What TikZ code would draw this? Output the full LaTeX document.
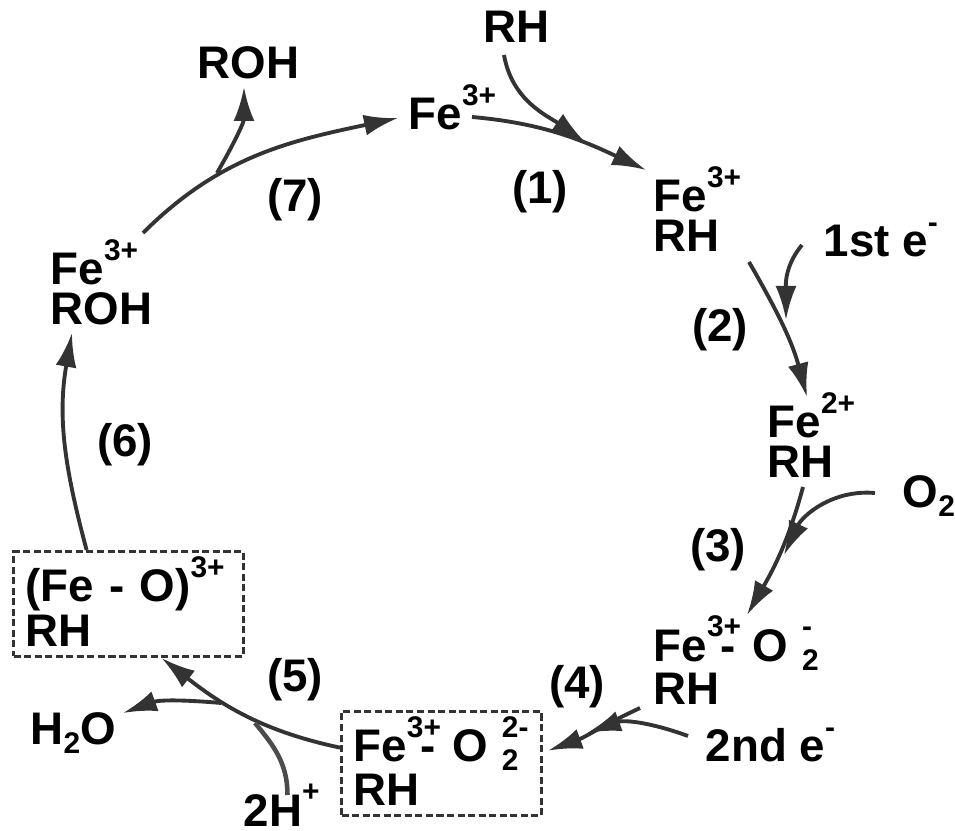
\documentclass[tikz,border=0pt]{standalone}
\usepackage{fontspec}
\setmainfont{Liberation Sans}
\usetikzlibrary{arrows.meta}

\newcommand{\sups}[1]{\raisebox{7pt}{\fontsize{8.5}{8.5}\selectfont #1}}
\newcommand{\subs}[1]{\raisebox{-2.5pt}{\fontsize{8.5}{8.5}\selectfont #1}}
\newcommand{\botline}{\rule[-0.05cm]{0pt}{0pt}}

\begin{document}
\begin{tikzpicture}[
    every node/.style={
        font=\fontsize{13}{11.4}\selectfont\bfseries,
        inner sep=0pt,
        anchor=base west,
        align=left
    },
    stepnum/.style={anchor=center},
    dotbox/.style={
        draw=black!80,
        dash pattern=on 2pt off 1pt,
        line width=0.9pt,
        inner xsep=0.12cm,
        inner ysep=0.05cm
    },
    rxn/.style={
        draw=black!80,
        line width=1.1pt,
        -{Latex[length=3.4mm,width=2.1mm]}
    },
    side/.style={
        draw=black!70,
        line width=1.3pt
    }
]
\useasboundingbox (0,0) rectangle (9.55,8.31);

% Species on the cycle
\node (FeA) at (4.08,7.01) {Fe\sups{3+}};
\node (FeB) at (6.53,5.79) {Fe\sups{3+}\\RH};
\node (FeC) at (7.67,3.53) {Fe\sups{2+}\\RH};
\node (FeD) at (6.53,1.26) {Fe\rlap{\sups{3+}}\kern0.3em-\kern0.37em O\kern0.3em\rlap{\sups{-}}\subs{2}\\RH};
\node[dotbox,text width=1.76cm] (FeE) at (3.40,0.69) {Fe\rlap{\sups{3+}}\kern0.3em-\kern0.37em O\kern0.3em\rlap{\sups{2-}}\subs{2}\\RH\botline};
\node[dotbox,text width=2.06cm] (FeF) at (0.12,2.29) {(Fe - O)\sups{3+}\\RH\botline};
\node (FeG) at (0.50,5.06) {Fe\sups{3+}\\ROH};

% Species entering and leaving
\node (SubRH) at (4.83,7.88) {RH};
\node (EleA) at (8.23,5.74) {1st e\sups{-}};
\node (OxyO) at (9.02,3.23) {O\subs{2}};
\node (EleB) at (7.05,0.69) {2nd e\sups{-}};
\node (ProtH) at (2.43,0.05) {2H\sups{+}};
\node (WatO) at (0.30,0.86) {H\subs{2}O};
\node (ProdROH) at (1.97,7.52) {ROH};

% Step numbers
\node[stepnum] (StepA) at (5.40,6.39) {(1)};
\node[stepnum] (StepB) at (7.20,5.01) {(2)};
\node[stepnum] (StepC) at (7.18,2.81) {(3)};
\node[stepnum] (StepD) at (5.77,1.44) {(4)};
\node[stepnum] (StepE) at (2.95,1.51) {(5)};
\node[stepnum] (StepF) at (1.25,3.86) {(6)};
\node[stepnum] (StepG) at (2.95,6.31) {(7)};

% Points where the side arrows meet the cycle
\coordinate (JoinA) at (5.85,6.89);
\coordinate (JoinB) at (7.86,5.11);
\coordinate (JoinC) at (7.84,2.76);
\coordinate (JoinD) at (5.87,0.98);
\coordinate (JoinE) at (2.55,1.08);
\coordinate (JoinF) at (2.21,1.28);
\coordinate (JoinG) at (2.17,6.58);

% Cycle
\draw[rxn] ([shift={(0.64,0.13)}]FeA.base west) to[out=-5,in=155] ([shift={(-0.07,0.82)}]FeB.base west);
\draw[rxn] ([shift={(0.96,-0.10)}]FeB.base west) to[out=-60,in=105] ([shift={(0.40,0.81)}]FeC.base west);
\draw[rxn] ([shift={(0.36,-0.09)}]FeC.base west) to[out=-105,in=60] ([shift={(0.94,0.90)}]FeD.base west);
\draw[rxn] ([shift={(-0.13,-0.03)}]FeD.base west) to[out=205,in=20] ([shift={(0.05,0.13)}]FeE.east);
\draw[rxn] ([yshift=0.16cm]FeE.west) to[out=168,in=-38] ([xshift=0.33cm]FeF.south);
\draw[rxn] ([xshift=-0.42cm]FeF.north) to[out=105,in=-100] ([shift={(0.22,-0.08)}]FeG.base west);
\draw[rxn] ([shift={(0.93,0.92)}]FeG.base west) to[out=45,in=192] ([shift={(-0.10,0.12)}]FeA.base west);

% Side arrows
\draw[rxn] ([shift={(0.21,-0.12)}]SubRH.base west) to[out=-80,in=145] (JoinA);
\draw[rxn] ([shift={(-0.21,0.12)}]EleA.base west) to[out=-130,in=90] (JoinB);
\draw[rxn] ([shift={(-0.27,0.15)}]OxyO.base west) to[out=175,in=65] (JoinC);
\draw[rxn] ([shift={(-0.17,0.26)}]EleB.base west) to[out=160,in=20] (JoinD);
\draw[side] ([shift={(0.445,0.31)}]ProtH.base west) to[out=90,in=-50] (JoinE);
\draw[rxn] (JoinF) to[out=175,in=20] ([shift={(0.93,0.32)}]WatO.base west);
\draw[rxn] (JoinG) to[out=60,in=-90] ([shift={(0.47,-0.08)}]ProdROH.base west);

\end{tikzpicture}
\end{document}
